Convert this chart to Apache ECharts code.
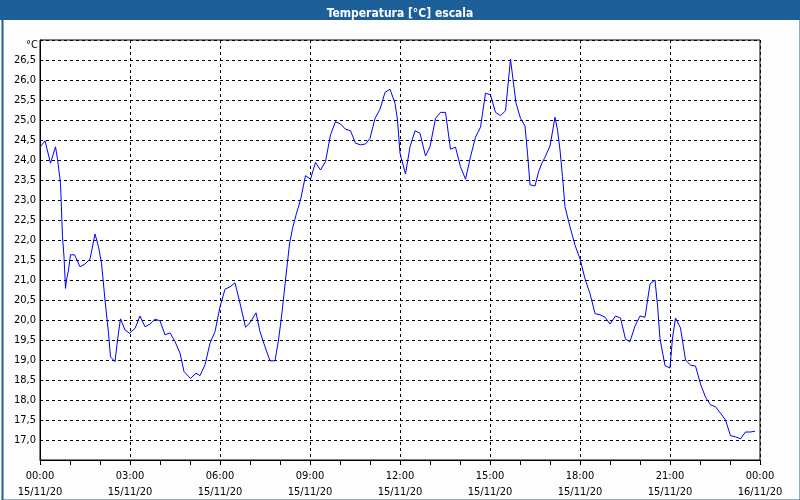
<!DOCTYPE html>
<html>
<head>
<meta charset="utf-8">
<script src="https://cdn.jsdelivr.net/npm/echarts@6/dist/echarts.min.js"></script>
<style>html,body{margin:0;padding:0;background:#fcfdfc;}#c{width:800px;height:500px;}</style>
</head>
<body>
<div id="c"></div>
<script>
// Time of each reading, minutes since 15/11/20 00:00
const times = [0,10,21,31,35,41,45,48,51,53,57,61,69,80,90,100,110,117,123,130,137,141,150,155,161,170,179,190,200,210,220,230,240,250,260,270,280,288,301,312,320,330,340,350,360,370,380,390,400,411,420,432,440,450,460,470,477,483,491,499,
505,513,521,531,541,551,561,571,581,591,601,611,621,631,641,651,660,670,680,690,700,710,715,720,731,740,750,760,771,780,791,801,811,821,831,841,851,861,871,881,891,901,911,921,931,941,952,961,970,975,980,990,997,1003,1010,1020,1030,1035,1040,1045,1050,1060,1070,1080,1090,1100,1110,1120,1130,1140,1151,1161,1171,1180,1190,1200,1210,1220,1230,1235,1240,1250,1260,1265,1271,1281,1291,1301,1311,1321,1331,1341,1351,1361,1371,1381,1391,1401,1411,1421,1430];
// Temperature [°C]
const temps = [24.32,24.48,23.92,24.33,24.02,23.42,22.08,21.58,20.79,21.0,21.25,21.63,21.63,21.33,21.4,21.52,22.15,21.83,21.42,20.5,19.67,19.08,18.96,19.5,20.03,19.75,19.67,19.79,20.1,19.83,19.9,20.02,19.98,19.63,19.68,19.46,19.17,18.71,18.54,18.67,18.61,18.88,19.42,19.71,20.33,20.77,20.83,20.93,20.42,19.82,19.93,20.18,19.71,19.33,18.98,18.98,19.5,20.08,21.0,21.9,
22.29,22.67,23.0,23.61,23.52,23.94,23.75,23.96,24.63,24.96,24.9,24.77,24.73,24.42,24.38,24.4,24.54,25.04,25.27,25.69,25.77,25.42,25.0,24.17,23.65,24.33,24.73,24.67,24.1,24.33,25.04,25.19,25.19,24.27,24.32,23.83,23.52,24.08,24.57,24.82,25.67,25.63,25.19,25.11,25.23,26.52,25.42,25.04,24.85,24.17,23.38,23.35,23.7,23.9,24.07,24.35,25.07,24.75,24.25,23.58,22.83,22.33,21.87,21.53,21.03,20.66,20.16,20.13,20.07,19.9,20.1,20.05,19.52,19.46,19.85,20.1,20.07,20.9,21.0,20.37,19.53,18.86,18.8,19.55,20.05,19.8,19.0,18.87,18.85,18.4,18.07,17.88,17.83,17.67,17.5,17.11,17.08,17.03,17.2,17.2,17.22];
const xLabels = ['00:00\n15/11/20','03:00\n15/11/20','06:00\n15/11/20','09:00\n15/11/20','12:00\n15/11/20','15:00\n15/11/20','18:00\n15/11/20','21:00\n15/11/20','00:00\n16/11/20'];
const titleText = 'Temperatura [°C] escala';
const unitText = '°C';

const chart = echarts.init(document.getElementById('c'), null, {renderer: 'canvas'});
const data = times.map((t, i) => [t, temps[i]]);
const font = 'Tahoma, "DejaVu Sans Condensed", "DejaVu Sans", sans-serif';

chart.setOption({
  backgroundColor: '#fcfdfc',
  animation: false,
  title: {
    text: titleText, left: 'center', top: 3,
    textStyle: {color: '#ffffff', fontSize: 12, fontWeight: 'bold', fontFamily: font}
  },
  graphic: [
    {type: 'rect', left: 0, top: 0, z: -1, shape: {width: 800, height: 20}, style: {fill: '#1d5f98'}},
    {type: 'rect', left: 0, top: 0, z: 100, silent: true, shape: {x: 1, y: 1, width: 798, height: 498}, style: {fill: 'none', stroke: '#1d5f98', lineWidth: 2}},
    {type: 'text', left: 26, top: 40, style: {text: unitText, fill: '#000', font: '11px ' + font}}
  ],
  grid: {left: 40, right: 40, top: 40, bottom: 40, show: true, borderColor: '#000', borderWidth: 1, backgroundColor: '#ffffff'},
  xAxis: {
    type: 'value', min: 0, max: 1440, interval: 180,
    axisLine: {show: true, lineStyle: {color: '#000', width: 1}},
    axisTick: {show: true, length: 5, lineStyle: {color: '#000'}},
    minorTick: {show: true, splitNumber: 3, length: 5, lineStyle: {color: '#000'}},
    splitLine: {show: true, lineStyle: {color: '#000', type: [3, 3], width: 1}},
    axisLabel: {
      margin: 8, color: '#000', fontSize: 11, fontFamily: font, lineHeight: 16,
      formatter: v => xLabels[Math.round(v / 180)]
    }
  },
  yAxis: {
    type: 'value', min: 16.5, max: 27, interval: 0.5,
    axisLine: {show: true, lineStyle: {color: '#000', width: 1}},
    axisTick: {show: false},
    splitLine: {show: true, lineStyle: {color: '#000', type: [3, 3], width: 1}},
    axisLabel: {
      margin: 4, color: '#000', fontSize: 11, fontFamily: font,
      formatter: v => (v <= 16.5 || v >= 27) ? '' : v.toFixed(1).replace('.', ',')
    }
  },
  series: [{
    type: 'line', data: data, showSymbol: false, symbol: 'none',
    lineStyle: {color: '#0000ff', width: 1}, smooth: false
  }]
});
</script>
</body>
</html>
